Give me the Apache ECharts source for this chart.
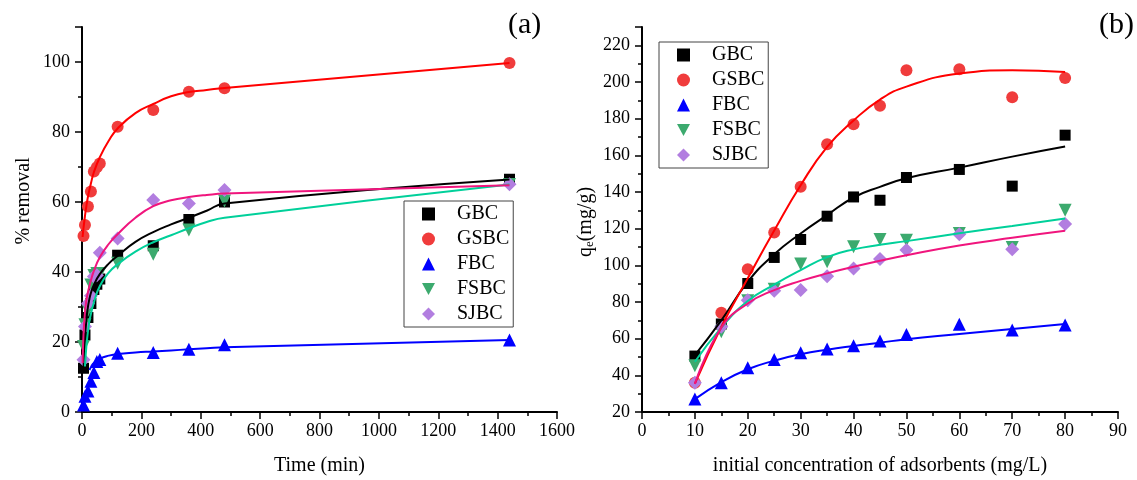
<!DOCTYPE html>
<html>
<head>
<meta charset="utf-8">
<script src="https://cdn.jsdelivr.net/npm/echarts/dist/echarts.min.js"></script>
<style>
  html, body { margin: 0; padding: 0; background: #fff; }
  #chart { width: 1137px; height: 480px; }
</style>
</head>
<body>
<div id="chart"></div>
<script>
  // (a) removal vs time
  var timeMin = [5, 10, 20, 30, 40, 50, 60, 120, 240, 360, 480, 1440];
  var removalGBC = [12.5, 22, 27, 31, 35, 36.5, 38, 44.8, 47.5, 55, 60, 66.5];
  var removalGSBC = [50.3, 53.4, 58.7, 63, 68.7, 69.9, 71, 81.5, 86.3, 91.5, 92.5, 99.7];
  var removalFBC = [2, 4.5, 6, 8.8, 11.3, 14.4, 15, 16.8, 17, 17.9, 19.2, 20.6];
  var removalFSBC = [18.7, 24.9, 29, 36.3, 39, 39.6, 39.6, 42.5, 45.1, 52, 60.3, 65];
  var removalSJBC = [14.9, 24.4, 31, 33.2, 38.7, 39.1, 45.5, 49.6, 60.6, 59.6, 63.4, 65.1];

  // fitted curves of (a)
  var fitTime = [2, 5, 10, 15, 20, 25, 30, 40, 60, 90, 120, 180, 240, 300, 360, 420, 480, 1440];
  var fitGBC = [null, 12.5, 21, 26.5, 30, 32.3, 34, 36.3, 39.4, 42.4, 44.6, 48.6, 51.4, 53.6, 55.5, 57.5, 59.6, 66.4];
  var fitGSBC = [50, 52.5, 56, 59, 61.5, 63.5, 65.3, 68.5, 72.8, 77.5, 81, 85.4, 88, 90.2, 91.4, 92, 92.6, 99.7];
  var fitFBC = [null, null, null, null, null, 12, 12.8, 14, 15.2, 16.1, 16.6, 17, 17.3, 17.6, 17.9, 18.2, 18.5, 20.6];
  var fitFSBC = [null, null, 13, 19, 23, 26, 28, 31.3, 36, 39.8, 42.2, 45.8, 48.5, 50.5, 52.5, 54.3, 55.5, 65];
  var fitSJBC = [14, 22, 28.5, 32, 34.2, 36, 37.6, 40.3, 44.2, 48, 50.8, 55.5, 58.8, 60.5, 61.4, 62, 62.4, 64.8];

  // (b) qe vs initial concentration
  var conc = [10, 15, 20, 25, 30, 35, 40, 45, 50, 60, 70, 80];
  var qeGBC = [50.5, 68, 90.1, 104.3, 114.1, 126.8, 137.3, 135.5, 147.9, 152.3, 143.2, 171];
  var qeGSBC = [36, 74.1, 97.8, 117.9, 142.8, 166, 177, 187, 206.4, 206.9, 191.7, 202.2];
  var qeFBC = [27.1, 36, 44.1, 48.7, 52.3, 54.3, 56.1, 58.7, 62.3, 67.8, 64.7, 67.4];
  var qeFSBC = [45.2, 63.8, 80.7, 87, 100.7, 101.9, 110.1, 114.1, 113.7, 117.4, 109.7, 130.1];
  var qeSJBC = [36, 66.5, 81, 86.1, 86.5, 94.1, 98.3, 103.4, 108.3, 117, 108.8, 122.5];

  var qfitGBC = [51, 70, 91, 106, 117.4, 127.4, 137, 142.8, 147.5, 153.3, 159.3, 164.8];
  var qfitGSBC = [35.5, 66.5, 93, 119, 143.7, 164.6, 179, 190.4, 197.5, 204.6, 206.4, 205.5];
  var qfitFBC = [27, 36.3, 43.3, 48, 51.5, 54, 56, 57.8, 59.7, 62.5, 65.3, 68];
  var qfitFSBC = [47.4, 66, 80.5, 89.5, 97.4, 104.5, 108.7, 111.2, 113.2, 117.5, 121.5, 125.5];
  var qfitSJBC = [35.3, 66, 79.2, 86.5, 91.5, 95.6, 99.2, 102.5, 105.5, 110.8, 115, 118.8];

  var names = ['GBC', 'GSBC', 'FBC', 'FSBC', 'SJBC'];

  var font = "'Liberation Serif', 'Times New Roman', serif";

  var marks = {
    GBC: { symbol: 'rect', size: 11, rotate: 0, color: '#000000', line: '#000000' },
    GSBC: { symbol: 'circle', size: 12, rotate: 0, color: '#f03c3c', line: '#ff0000' },
    FBC: { symbol: 'triangle', size: 13, rotate: 0, color: '#0000ff', line: '#0000ff' },
    FSBC: { symbol: 'triangle', size: 13, rotate: 180, color: '#3caa6e', line: '#00d09a' },
    SJBC: { symbol: 'diamond', size: 14, rotate: 0, color: '#b27ee0', line: '#f0157d' }
  };

  function pairs(xs, ys) {
    var out = [];
    for (var i = 0; i < xs.length; i++) {
      out.push([xs[i], ys[i]]);
    }
    return out;
  }

  function scatter(name, idx, xs, ys) {
    var m = marks[name];
    return {
      name: name,
      type: 'scatter',
      xAxisIndex: idx,
      yAxisIndex: idx,
      symbol: m.symbol,
      symbolSize: m.size,
      symbolRotate: m.rotate,
      itemStyle: { color: m.color, opacity: 1 },
      data: pairs(xs, ys)
    };
  }

  function fitLine(name, idx, xs, ys) {
    return {
      name: name + ' fit',
      type: 'line',
      xAxisIndex: idx,
      yAxisIndex: idx,
      showSymbol: false,
      symbol: 'none',
      smooth: 0.5,
      silent: true,
      lineStyle: { color: marks[name].line, width: 2 },
      data: pairs(xs, ys)
    };
  }

  function valueAxis(idx, min, max, interval, minorSplit, isX, title, gap) {
    return {
      type: 'value',
      gridIndex: idx,
      min: min,
      max: max,
      interval: interval,
      name: title,
      nameLocation: 'middle',
      nameGap: gap,
      nameRotate: isX ? 0 : 90,
      nameTextStyle: { fontFamily: font, fontSize: 20, color: '#000' },
      splitLine: { show: false },
      axisLine: { show: true, onZero: false, lineStyle: { color: '#000', width: 2 } },
      axisTick: { show: true, inside: false, length: 7, lineStyle: { color: '#000', width: 1.5 } },
      minorTick: { show: true, splitNumber: minorSplit, length: 4, lineStyle: { color: '#000', width: 1.5 } },
      axisLabel: {
        fontFamily: font, fontSize: 18, color: '#000',
        margin: isX ? 10 : 12,
        showMaxLabel: isX,
        hideOverlap: false,
        formatter: function (v) { return String(v); }
      }
    };
  }

  function legend(left, top) {
    return {
      data: names.map(function (n) {
        // downward triangle for FSBC, the legend does not take the series rotation
        return n === 'FSBC' ? { name: n, icon: 'path://M0,0L12,0L6,11Z' } : n;
      }),
      orient: 'vertical',
      left: left,
      top: top,
      itemWidth: 13,
      itemHeight: 13,
      itemGap: 5,
      symbolKeepAspect: true,
      padding: [3, 4, 3, 18],
      borderColor: '#444',
      borderWidth: 1,
      backgroundColor: '#fff',
      selectedMode: false,
      textStyle: { fontFamily: font, fontSize: 20, color: '#000', padding: [0, 0, 0, 17] }
    };
  }

  var series = [];
  var removal = [removalGBC, removalGSBC, removalFBC, removalFSBC, removalSJBC];
  var fitsA = [fitGBC, fitGSBC, fitFBC, fitFSBC, fitSJBC];
  var qe = [qeGBC, qeGSBC, qeFBC, qeFSBC, qeSJBC];
  var fitsB = [qfitGBC, qfitGSBC, qfitFBC, qfitFSBC, qfitSJBC];
  names.forEach(function (n, i) {
    series.push(scatter(n, 0, timeMin, removal[i]));
    series.push(scatter(n, 1, conc, qe[i]));
  });
  names.forEach(function (n, i) {
    series.push(fitLine(n, 0, fitTime, fitsA[i]));
    series.push(fitLine(n, 1, conc, fitsB[i]));
  });

  var myChart = echarts.init(document.getElementById('chart'), null, { renderer: 'canvas' });
  myChart.setOption({
    animation: false,
    backgroundColor: '#fff',
    grid: [
      { left: 82, right: 580, top: 27, bottom: 68, outerBoundsMode: 'none', containLabel: false },
      { left: 642, right: 19, top: 27, bottom: 68, outerBoundsMode: 'none', containLabel: false }
    ],
    xAxis: [
      valueAxis(0, 0, 1600, 200, 2, true, 'Time (min)', 44),
      valueAxis(1, 0, 90, 10, 2, true, 'initial concentration of adsorbents (mg/L)', 44)
    ],
    yAxis: [
      valueAxis(0, 0, 110, 20, 2, false, '', 48),
      valueAxis(1, 20, 230, 20, 2, false, '', 50)
    ],
    legend: [legend(404, 201), legend(659, 42)],
    graphic: [
      { type: 'text', left: 508, top: 10, style: { text: '(a)', font: '30px ' + font, fill: '#000' } },
      { type: 'text', left: 1099, top: 10, style: { text: '(b)', font: '30px ' + font, fill: '#000' } },
      {
        type: 'text', x: 24, y: 201, rotation: Math.PI / 2,
        style: { text: '% removal', align: 'center', verticalAlign: 'middle', font: '20px ' + font, fill: '#000' }
      },
      {
        type: 'text', x: 586, y: 222, rotation: Math.PI / 2,
        style: {
          text: 'q{s|e}(mg/g)', align: 'center', verticalAlign: 'middle',
          font: '20px ' + font, fill: '#000',
          rich: { s: { fontSize: 13, fontFamily: font, verticalAlign: 'bottom', padding: [8, 0, 0, 0] } }
        }
      }
    ],
    series: series
  });
</script>
</body>
</html>
